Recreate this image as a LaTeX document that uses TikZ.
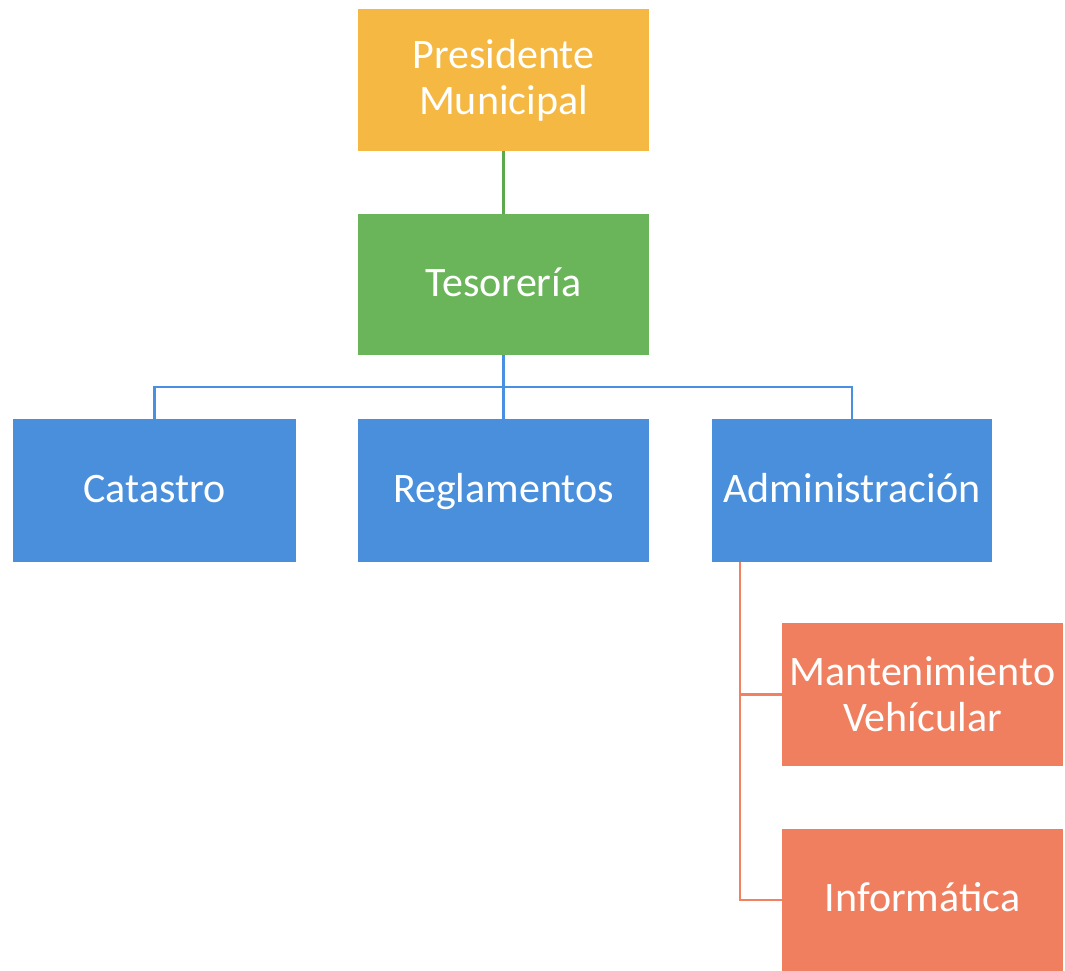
\documentclass[tikz,border=0pt]{standalone}
\usepackage{fontspec}
\setmainfont{Carlito}
\usepackage{tikz}

\definecolor{presfill}{HTML}{F4B843}
\definecolor{tesfill}{HTML}{6AB55A}
\definecolor{areafill}{HTML}{4A8FDC}
\definecolor{subfill}{HTML}{EF7F5F}
\definecolor{tesline}{HTML}{5DAA4E}
\definecolor{arealine}{HTML}{4A90E2}
\definecolor{subline}{HTML}{F08262}

\tikzset{
  unit/.style={inner sep=0pt, align=center, text=white,
    font=\fontsize{42}{46}\selectfont},
  oneline/.style={unit, text height=28pt, text depth=5pt},
  link/.style={line width=2.2pt}
}

\begin{document}
\begin{tikzpicture}[x=1pt,y=-1pt]
\clip (0,0) rectangle (1065,970);
\fill[white] (0,0) rectangle (1065,970);
\node[unit, fill=presfill, minimum width=291, minimum height=142] (pres) at (503.5,80) {Presidente\\Municipal};
\node[oneline, fill=tesfill, minimum width=291, minimum height=141] (tes) at (503.5,284.5) {Tesorería};
\node[oneline, fill=areafill, minimum width=283, minimum height=143] (cat) at (154.5,490.5) {Catastro};
\node[oneline, fill=areafill, minimum width=291, minimum height=143] (reg) at (503.5,490.5) {Reglamentos};
\node[oneline, fill=areafill, minimum width=280, minimum height=143] (adm) at (852,490.5) {Administración};
\node[unit, fill=subfill, minimum width=281, minimum height=143] (mant) at (922.5,694.5) {Mantenimiento\\Vehícular};
\node[oneline, fill=subfill, minimum width=281, minimum height=142] (inf) at (922.5,900) {Informática};
\coordinate (hub) at (503.5,387);
\coordinate (spine) at (740,562);
\draw[link, tesline] (pres) -- (tes);
\draw[link, arealine] (tes) -- (hub) (hub) -- (reg);
\draw[link, arealine] (cat.north) |- (hub) -| (adm.north);
\draw[link, subline] (spine) |- (mant.west) (spine) |- (inf.west);
\end{tikzpicture}
\end{document}
